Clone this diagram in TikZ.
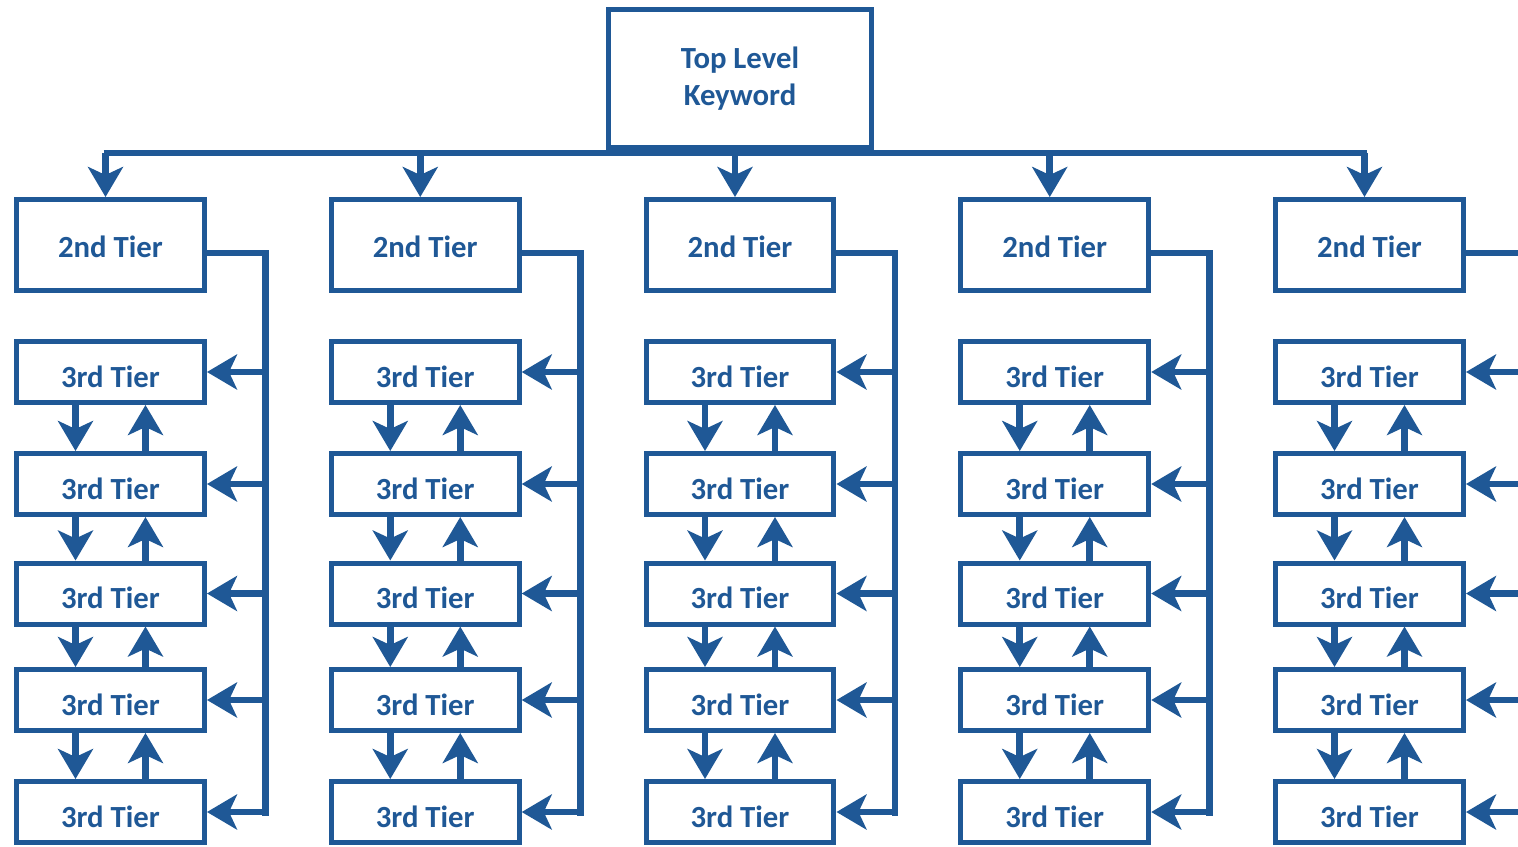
\documentclass[tikz,border=0pt]{standalone}
\usepackage{fontspec}
\setmainfont{Carlito}
\usetikzlibrary{arrows.meta}
\usetikzlibrary{positioning}
\usetikzlibrary{calc}

\definecolor{kwblue}{RGB}{31,88,150}

\tikzset{
  tierbox/.style={draw=kwblue, line width=2.85pt, fill=white, text=kwblue,
    font=\bfseries\fontsize{17.5}{21}\selectfont, inner sep=0pt,
    minimum width=3.76cm},
  link/.style={draw=kwblue, line width=3.8pt},
  linkarr/.style={link, -{Stealth[length=0.6cm,width=0.7cm,inset=0.16cm]}},
}

\begin{document}
\begin{tikzpicture}[x=0.02cm, y=-0.02cm]

 \useasboundingbox (0,0) rectangle (1518,846);
 \clip (0,0) rectangle (1518,846);
 \fill[white] (0,0) rectangle (1518,846);

 %level 1
 \node[tierbox, align=center, minimum width=5.26cm, minimum height=2.76cm] (top) at (740,78.5) {Top Level\\Keyword};

 %columns
 \foreach \c in {1,...,5} {
   \pgfmathsetmacro\dx{(\c-1)*314.75}

   %level 2
   \node[tierbox, minimum height=1.82cm, text height=14.6pt, text depth=0pt] (S\c) at (110.5+\dx,245) {2nd Tier};

   %level 3
   \foreach \r/\ypos in {1/372, 2/484, 3/593.5, 4/700, 5/812} {
     \node[tierbox, minimum height=1.22cm, text height=17.4pt, text depth=0pt] (R\c-\r) at (110.5+\dx,\ypos) {3rd Tier};
   }

   %arrows between 3rd tier
   \foreach \r/\n in {1/2, 2/3, 3/4, 4/5} {
     \draw[linkarr] ([xshift=-0.7cm]R\c-\r.south) -- ([xshift=-0.7cm]R\c-\n.north);
     \draw[linkarr] ([xshift=0.7cm]R\c-\n.north) -- ([xshift=0.7cm]R\c-\r.south);
   }

   %side bus
   \coordinate (B\c) at ([xshift=1.17cm,yshift=-0.16cm]S\c.east);
   \coordinate (E\c) at (B\c |- R\c-5.east);
   \draw[link] ([yshift=-0.16cm]S\c.east) -- (B\c) -- ([yshift=-0.08cm]E\c);
   \foreach \r in {1,...,5} {
     \draw[linkarr] (B\c |- R\c-\r.east) -- (R\c-\r.east);
   }

   %arrow from top
   \draw[linkarr] ([xshift=-0.1cm,yshift=-0.06cm]top.south -| S\c.north) -- ([xshift=-0.1cm]S\c.north);
 }

 %top bus
 \draw[link] ([xshift=-0.14cm,yshift=-0.06cm]top.south -| S1.north) -- ([xshift=-0.06cm,yshift=-0.06cm]top.south -| S5.north);

\end{tikzpicture}
\end{document}
